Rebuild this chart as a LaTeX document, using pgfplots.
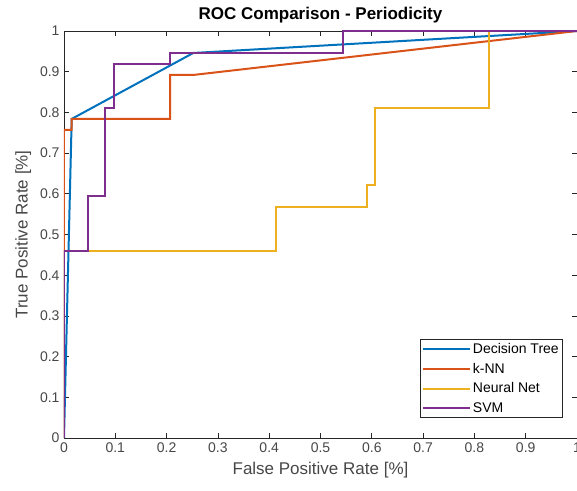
\documentclass[border=0pt]{standalone}
\usepackage{pgfplots}
\pgfplotsset{compat=1.18}
\usepackage{fontspec}
\setmainfont{Liberation Sans}
\definecolor{mblue}{rgb}{0,0.447,0.741}
\definecolor{morange}{rgb}{0.85,0.325,0.098}
\definecolor{myellow}{rgb}{0.929,0.694,0.125}
\definecolor{mpurple}{rgb}{0.494,0.184,0.556}
\definecolor{axgray}{rgb}{0.15,0.15,0.15}
\begin{document}
\begin{tikzpicture}
\begin{axis}[
  scale only axis,
  width=513pt, height=407pt,
  xmin=0, xmax=1, ymin=0, ymax=1,
  xtick={0,0.1,0.2,0.3,0.4,0.5,0.6,0.7,0.8,0.9,1},
  xticklabels={0,0.1,0.2,0.3,0.4,0.5,0.6,0.7,0.8,0.9,1},
  ytick={0,0.1,0.2,0.3,0.4,0.5,0.6,0.7,0.8,0.9,1},
  yticklabels={0,0.1,0.2,0.3,0.4,0.5,0.6,0.7,0.8,0.9,1},
  tick align=inside,
  major tick length=5pt,
  axis line style={axgray, line width=0.8pt},
  every tick/.style={axgray, line width=0.8pt},
  ticklabel style={font=\fontsize{14}{16}\selectfont, text=axgray!85!white},
  xticklabel style={yshift=-1pt},
  yticklabel style={xshift=-1pt},
  title={\textbf{ROC Comparison - Periodicity}},
  title style={font=\fontsize{17}{20}\selectfont, yshift=-2pt},
  xlabel={False Positive Rate [\%]},
  ylabel={True Positive Rate [\%]},
  label style={font=\fontsize{17}{20}\selectfont, text=axgray!85!white},
  xlabel style={yshift=-3pt},
  ylabel style={yshift=2pt},
  legend style={at={(rel axis cs:0.973,0.049)}, anchor=south east,
    font=\fontsize{14}{16}\selectfont, draw=axgray, line width=0.8pt,
    inner xsep=2pt, inner ysep=2pt, row sep=4pt, cells={anchor=west}},
  legend image code/.code={\draw[#1] (0pt,0pt) -- (47pt,0pt);},
  every axis plot/.append style={line width=2pt, line join=miter},
]
\addplot[mblue] coordinates {(0,0) (0.015,0.784) (0.252,0.946) (1,1)};
\addlegendentry{Decision Tree}
\addplot[morange] coordinates {(0,0) (0,0.757) (0.015,0.757) (0.015,0.784) (0.207,0.784) (0.207,0.892) (0.252,0.892) (1,1)};
\addlegendentry{k-NN}
\addplot[myellow] coordinates {(0,0) (0,0.459) (0.414,0.459) (0.414,0.568) (0.590,0.568) (0.590,0.622) (0.606,0.622) (0.606,0.811) (0.829,0.811) (0.829,1) (1,1)};
\addlegendentry{Neural Net}
\addplot[mpurple] coordinates {(0,0) (0,0.459) (0.047,0.459) (0.047,0.595) (0.080,0.595) (0.080,0.811) (0.097,0.811) (0.097,0.919) (0.206,0.919) (0.206,0.946) (0.543,0.946) (0.543,1) (1,1)};
\addlegendentry{SVM}
\end{axis}
\pgfresetboundingbox
\path (-64pt,-52pt) rectangle (513pt,438pt);
\end{tikzpicture}
\end{document}
